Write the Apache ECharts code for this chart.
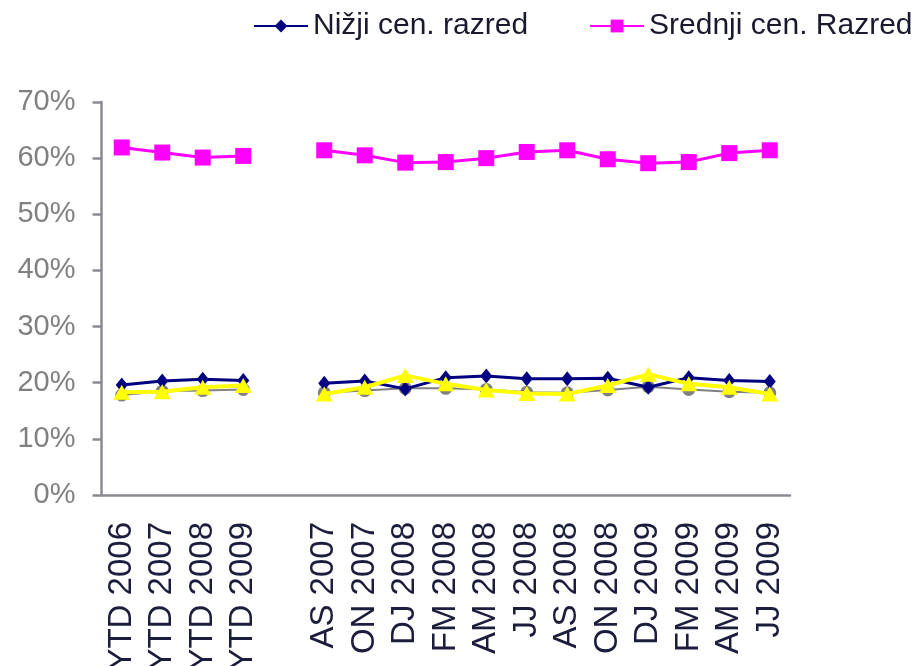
<!DOCTYPE html>
<html>
<head>
<meta charset="utf-8">
<script src="https://cdn.jsdelivr.net/npm/echarts@6/dist/echarts.min.js"></script>
<style>
  html, body { margin: 0; padding: 0; background: #fff; }
  #chart { width: 920px; height: 666px; }
</style>
</head>
<body>
<div id="chart"></div>
<script>
// categories (empty slot = gap between yearly and bimonthly values)
const categories = ['YTD 2006', 'YTD 2007', 'YTD 2008', 'YTD 2009', '',
  'AS 2007', 'ON 2007', 'DJ 2008', 'FM 2008', 'AM 2008', 'JJ 2008',
  'AS 2008', 'ON 2008', 'DJ 2009', 'FM 2009', 'AM 2009', 'JJ 2009'];

// shares in %
const nizji    = [19.6, 20.3, 20.6, 20.4, null, 19.9, 20.3, 18.9, 20.9, 21.2, 20.7, 20.7, 20.8, 19.2, 20.9, 20.4, 20.2];
const srednji  = [61.9, 61.0, 60.1, 60.4, null, 61.4, 60.5, 59.2, 59.3, 60.0, 61.1, 61.4, 59.8, 59.1, 59.3, 60.9, 61.4];
const visji    = [18.3, 18.4, 19.2, 19.5, null, 18.0, 19.2, 21.3, 19.8, 18.7, 18.1, 18.0, 19.5, 21.5, 19.8, 19.2, 18.0];
const ostali   = [17.8, 18.5, 18.6, 18.8, null, 18.2, 18.6, 19.0, 19.0, 18.8, 18.3, 18.2, 18.7, 19.3, 18.8, 18.4, 18.2];

const axisGray = '#8a8a92';

const chart = echarts.init(document.getElementById('chart'));
chart.setOption({
  animation: false,
  legend: {
    data: ['Nižji cen. razred', 'Srednji cen. Razred'],
    left: 253,
    top: 11,
    width: 900,
    padding: 0,
    itemWidth: 54,
    itemHeight: 16,
    itemGap: 61,
    textStyle: { fontFamily: 'Liberation Sans, Arial', fontSize: 30, color: '#1a1a2e' }
  },
  grid: { left: 101.5, right: 130, top: 102, bottom: 171, outerBoundsMode: 'none', containLabel: false },
  xAxis: [{
    type: 'category',
    data: categories,
    position: 'bottom',
    axisLine: { onZero: false, lineStyle: { color: axisGray, width: 2.5 } },
    axisTick: { length: 10, lineStyle: { color: axisGray, width: 2.5 } },
    axisLabel: {
      rotate: 90, interval: 0, margin: 27,
      fontFamily: 'Liberation Sans, Arial', fontSize: 33, color: '#1c1c3c'
    }
  }, {
    type: 'category',
    data: categories,
    position: 'bottom',
    axisLine: { show: false, onZero: false },
    axisTick: { alignWithLabel: true, interval: 0, length: 6, lineStyle: { color: axisGray, width: 2.5 } },
    axisLabel: { show: false }
  }],
  yAxis: {
    type: 'value',
    min: 0, max: 70, interval: 10,
    splitLine: { show: false },
    axisLine: { show: true, lineStyle: { color: axisGray, width: 2.5 } },
    axisTick: { show: true, length: 9, lineStyle: { color: axisGray, width: 2.5 } },
    axisLabel: {
      formatter: '{value}%', margin: 26,
      fontFamily: 'Liberation Sans, Arial', fontSize: 29, color: '#808080'
    }
  },
  series: [{
    name: 'Ostali',
    type: 'line',
    z: 1,
    data: ostali,
    symbol: 'circle',
    symbolSize: 13,
    itemStyle: { color: '#808080' },
    lineStyle: { color: '#808080', width: 2 }
  }, {
    name: 'Nižji cen. razred',
    type: 'line',
    z: 2,
    data: nizji,
    symbol: 'diamond',
    symbolSize: [12, 15],
    itemStyle: { color: '#000080' },
    lineStyle: { color: '#000080', width: 3 }
  }, {
    name: 'Srednji cen. Razred',
    type: 'line',
    z: 2,
    data: srednji,
    symbol: 'rect',
    symbolSize: 16,
    itemStyle: { color: '#ff00ff' },
    lineStyle: { color: '#ff00ff', width: 3 }
  }, {
    name: 'Višji cen. razred',
    type: 'line',
    z: 3,
    data: visji,
    symbol: 'triangle',
    symbolSize: [17, 15],
    itemStyle: { color: '#ffff00' },
    lineStyle: { color: '#ffff00', width: 4 }
  }]
});
</script>
</body>
</html>
